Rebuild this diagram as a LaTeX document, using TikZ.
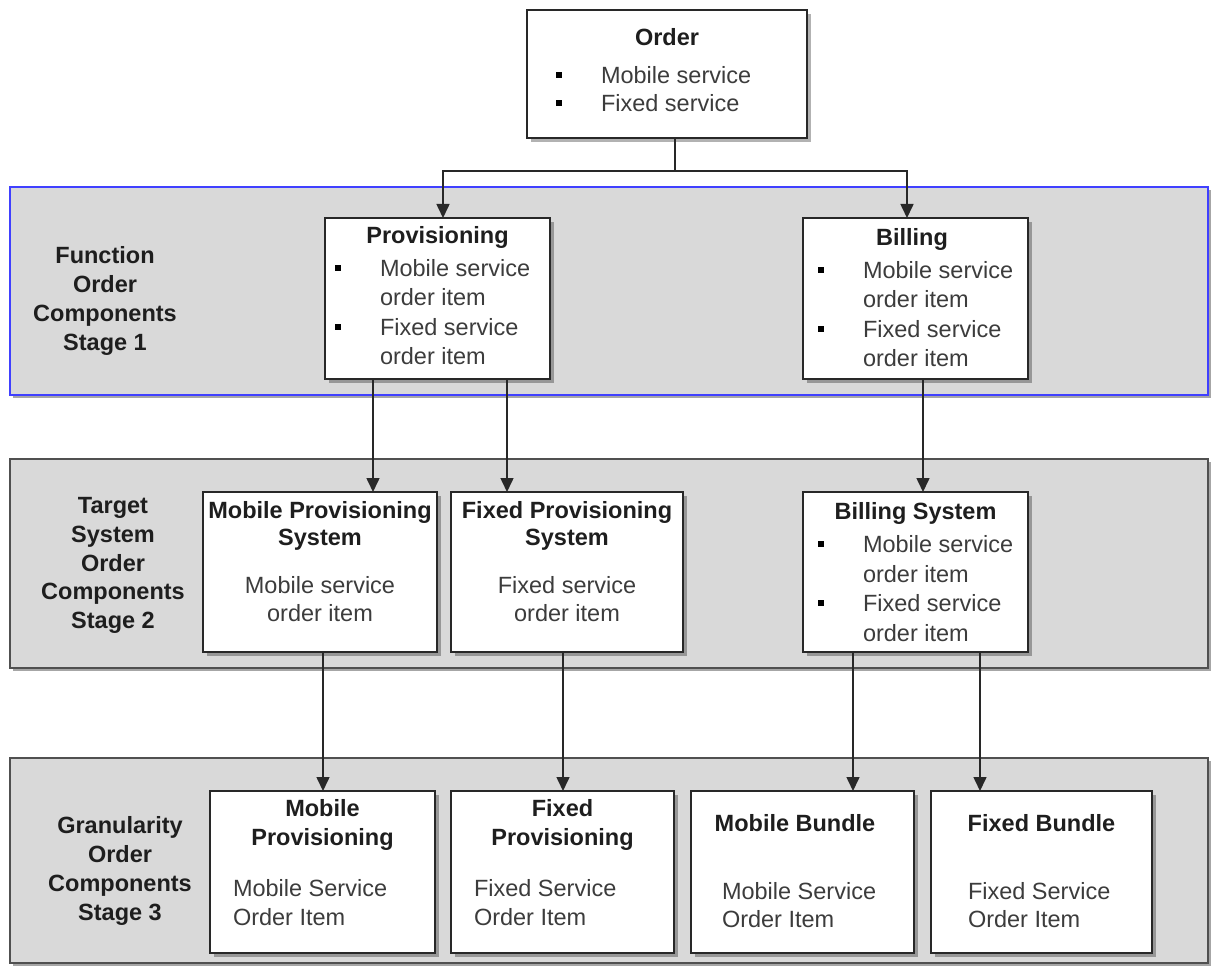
\documentclass[tikz,border=0pt]{standalone}
\usepackage{fontspec}
\setmainfont{Liberation Sans}
\usetikzlibrary{arrows.meta,shadows}
\definecolor{bandfill}{RGB}{217,217,217}
\definecolor{bandblue}{RGB}{64,64,255}
\definecolor{bandgray}{RGB}{80,80,80}
\definecolor{boxline}{RGB}{40,40,40}
\definecolor{titlecol}{RGB}{30,30,30}
\definecolor{bodycol}{RGB}{60,60,60}
\newcommand\sqbul{{\color{black}\rule[5.5pt]{6pt}{6pt}}}
\newcommand\bitem[1]{\makebox[45pt][l]{\sqbul}#1}
\newcommand\bcont[1]{\hspace*{45pt}#1}
\newcommand\llines[2]{\fontsize{23.5}{#1}\selectfont\begin{tabular}[t]{@{}l@{}}#2\end{tabular}}
\newcommand\clines[2]{\fontsize{23.5}{#1}\selectfont\begin{tabular}[t]{@{}c@{}}#2\end{tabular}}
\begin{document}
\begin{tikzpicture}[x=1pt,y=-1pt,
  every node/.style={inner sep=0pt, outer sep=0pt},
  band/.style={draw=bandgray, fill=bandfill, line width=1.8pt, minimum width=1198pt,
    drop shadow={shadow xshift=3pt, shadow yshift=-3pt, opacity=0.35, fill=black}},
  blueband/.style={band, draw=bandblue},
  box/.style={draw=boxline, fill=white, line width=1.6pt,
    drop shadow={shadow xshift=4pt, shadow yshift=-4pt, opacity=0.3, fill=black}},
  ttl/.style={font=\fontsize{23.5}{29}\selectfont\bfseries, text=titlecol, anchor=base},
  bdy/.style={font=\fontsize{23.5}{29}\selectfont, text=bodycol, anchor=base west},
  cbdy/.style={bdy, anchor=base},
  link/.style={draw=boxline, line width=1.6pt},
  arr/.style={link, -{Triangle[length=14pt,width=13pt]}}]
\useasboundingbox (0,0) rectangle (1211,968);

% bands
\node[blueband, minimum height=208pt] (band1) at (609,291) {};
\node[band, minimum height=209pt] (band2) at (609,563.5) {};
\node[band, minimum height=205pt] (band3) at (609,860.5) {};

% stage labels
\node[ttl] (s1) at (105,263.5) {\clines{29}{Function\\Order\\Components\\Stage 1}};
\node[ttl] (s2) at (113,513.5) {\clines{28.75}{Target\\System\\Order\\Components\\Stage 2}};
\node[ttl] (s3) at (120,833.5) {\clines{29}{Granularity\\Order\\Components\\Stage 3}};

% boxes
\node[box, minimum width=280pt, minimum height=128pt] (order) at (667,74) {};
\node[box, minimum width=225pt, minimum height=161pt] (prov) at (437.5,298.5) {};
\node[box, minimum width=225pt, minimum height=161pt] (bill) at (915.5,298.5) {};
\node[box, minimum width=234pt, minimum height=160pt] (mps) at (320,572) {};
\node[box, minimum width=232pt, minimum height=160pt] (fps) at (567,572) {};
\node[box, minimum width=225pt, minimum height=160pt] (bsys) at (915.5,572) {};
\node[box, minimum width=225pt, minimum height=162pt] (mp3) at (322.5,872) {};
\node[box, minimum width=223pt, minimum height=162pt] (fp3) at (562.5,872) {};
\node[box, minimum width=223pt, minimum height=162pt] (mb3) at (802.5,872) {};
\node[box, minimum width=221pt, minimum height=162pt] (fb3) at (1041.5,872) {};

% box texts
\node[ttl] (tOrder) at (667,45.5) {Order};
\node[bdy] (lOrder) at (556,83.5) {\llines{28}{\bitem{Mobile service}\\\bitem{Fixed service}}};

\node[ttl] (tProv) at (437.5,243.5) {Provisioning};
\node[bdy] (lProv) at (335,276.5) {\llines{29.5}{\bitem{Mobile service}\\\bcont{order item}\\\bitem{Fixed service}\\\bcont{order item}}};

\node[ttl] (tBill) at (912,245.5) {Billing};
\node[bdy] (lBill) at (818,278.5) {\llines{29.5}{\bitem{Mobile service}\\\bcont{order item}\\\bitem{Fixed service}\\\bcont{order item}}};

\node[ttl] (tMps) at (320,518.5) {\clines{27}{Mobile Provisioning\\System}};
\node[cbdy] (lMps) at (320,593.5) {\clines{28}{Mobile service\\order item}};

\node[ttl] (tFps) at (567,518.5) {\clines{27}{Fixed Provisioning\\System}};
\node[cbdy] (lFps) at (567,593.5) {\clines{28}{Fixed service\\order item}};

\node[ttl] (tBsys) at (915.5,519.5) {Billing System};
\node[bdy] (lBsys) at (818,552.5) {\llines{29.5}{\bitem{Mobile service}\\\bcont{order item}\\\bitem{Fixed service}\\\bcont{order item}}};

\node[ttl] (tMp3) at (322.5,816.5) {\clines{29}{Mobile\\Provisioning}};
\node[bdy] (lMp3) at (233,896.5) {\llines{29}{Mobile Service\\Order Item}};

\node[ttl] (tFp3) at (562.5,816.5) {\clines{29}{Fixed\\Provisioning}};
\node[bdy] (lFp3) at (474,896.5) {\llines{29}{Fixed Service\\Order Item}};

\node[ttl] (tMb3) at (795,831.5) {Mobile Bundle};
\node[bdy] (lMb3) at (722,899) {\llines{28}{Mobile Service\\Order Item}};

\node[ttl] (tFb3) at (1041.5,831.5) {Fixed Bundle};
\node[bdy] (lFb3) at (968,899) {\llines{28}{Fixed Service\\Order Item}};

% connectors
\coordinate (j) at (675,171);
\draw[link] (j |- order.south) -- (j);
\draw[arr] (j) -| ([xshift=5.5pt]prov.north);
\draw[arr] (j) -| ([xshift=-8.5pt]bill.north);

\draw[arr] ([xshift=-64.5pt]prov.south) -- ([xshift=53pt]mps.north);
\draw[arr] ([xshift=69.5pt]prov.south) -- ([xshift=-60pt]fps.north);
\draw[arr] ([xshift=7.5pt]bill.south) -- ([xshift=7.5pt]bsys.north);

\draw[arr] ([xshift=3pt]mps.south) -- ([xshift=0.5pt]mp3.north);
\draw[arr] ([xshift=-4pt]fps.south) -- ([xshift=0.5pt]fp3.north);
\draw[arr] ([xshift=-62.5pt]bsys.south) -- ([xshift=50.5pt]mb3.north);
\draw[arr] ([xshift=64.5pt]bsys.south) -- ([xshift=-61.5pt]fb3.north);
\end{tikzpicture}
\end{document}
